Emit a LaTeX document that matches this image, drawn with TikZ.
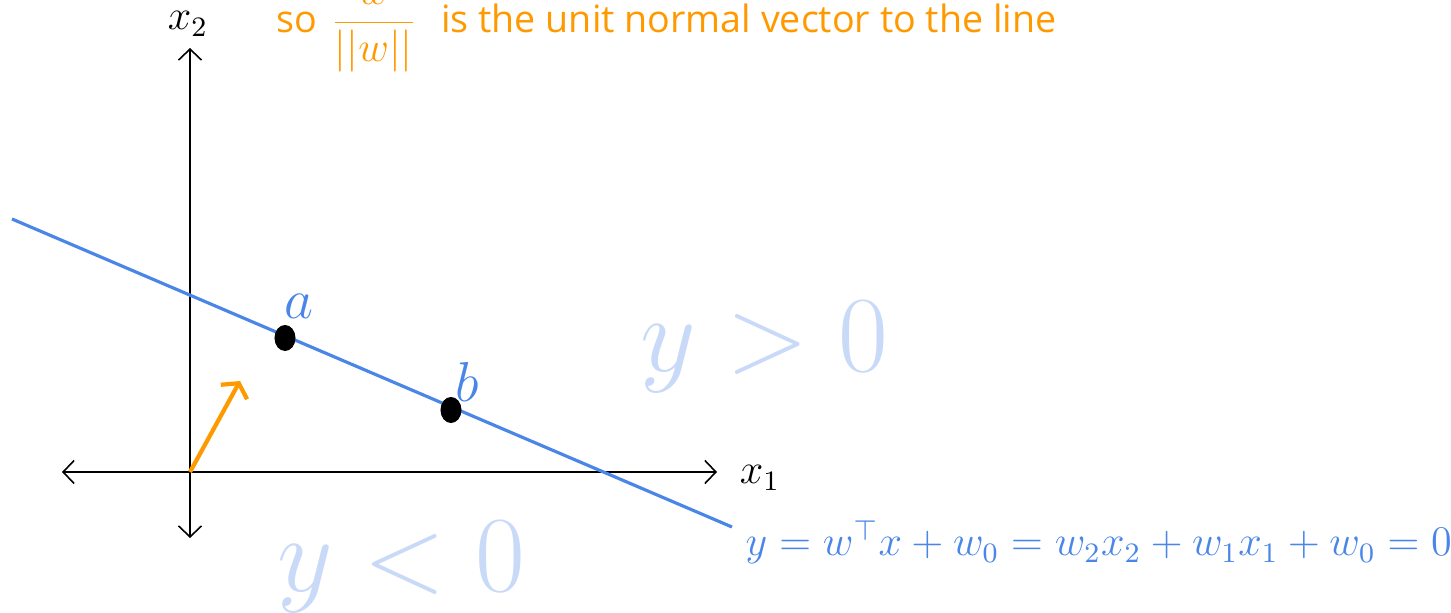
\RequirePackage{fix-cm}
\documentclass[tikz,border=0pt]{standalone}
\usepackage{amsmath,amssymb}
\usepackage{fontspec}
\usepackage{tikz}
\usetikzlibrary{arrows.meta,shapes.geometric}
\newfontfamily\notefont{Open Sans}
\definecolor{lineblue}{HTML}{4A86E8}
\definecolor{paleblue}{HTML}{C9DAF8}
\definecolor{normalorange}{HTML}{FF9900}

\begin{document}
\begin{tikzpicture}[x=0.01cm, y=-0.01cm, >={Straight Barb[length=1.1mm,width=2.3mm]},
  axis/.style={<->, line width=.45pt, black},
  dot/.style={ellipse, fill=black, inner sep=0pt, minimum width=2.1mm, minimum height=2.6mm},
  ptlabel/.style={text=lineblue, font=\fontsize{16}{19}\selectfont, inner sep=0pt},
  region/.style={text=paleblue, font=\fontsize{30.8}{34}\selectfont, inner sep=0pt, anchor=base west}]
\useasboundingbox (0,0) rectangle (1451,613);
% axes
\coordinate (o) at (190,472);
\coordinate (xl) at (62,472);
\coordinate (xr) at (717,472);
\coordinate (yb) at (190,538);
\coordinate (yt) at (190,48);
\draw[axis] (xl) -- (xr);
\draw[axis] (yb) -- (yt);
\node[anchor=base, font=\large, inner sep=0pt] (xone) at (760,484) {$x_1$};
\node[anchor=base, font=\large, inner sep=0pt] (xtwo) at (188,30) {$x_2$};
% decision line
\coordinate (lineL) at (12,219);
\coordinate (lineR) at (732,527);
\draw[lineblue, line width=.9pt] (lineL) -- (lineR);
\node[dot] (pa) at (285,338) {};
\node[dot] (pb) at (451,410) {};
\node[ptlabel] (la) at (299,306) {$a$};
\node[ptlabel] (lb) at (467,382) {$b$};
% normal vector
\coordinate (wtip) at (240,381);
\draw[->, normalorange, line width=1.2pt, >={Straight Barb[length=1mm,width=3mm]}] (o) -- (wtip);
% texts
\node[text=lineblue, font=\large, anchor=base west, inner sep=0pt] (eq) at (745,556)
  {$y = w^{\top}x + w_0 = w_2x_2 + w_1x_1 + w_0 = 0$};
\node[region] (pos) at (640,372) {$y > 0$};
\node[region] (neg) at (277,592) {$y < 0$};
\node[text=normalorange, font=\notefont\fontsize{10.7}{12}\selectfont, anchor=base west, inner sep=0pt] (note) at (276,33)
  {so\hspace{3.8pt}{\fontsize{12}{14}\selectfont$\dfrac{w}{||w||}$}\hspace{7pt}is the unit normal vector to the line};
\end{tikzpicture}
\end{document}
